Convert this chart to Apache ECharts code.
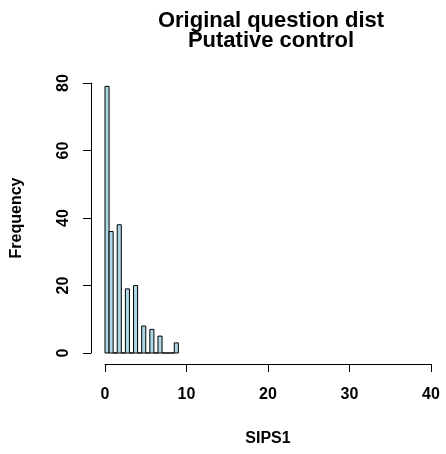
<!DOCTYPE html>
<html>
<head>
<meta charset="utf-8">
<script src="https://cdn.jsdelivr.net/npm/echarts@6/dist/echarts.min.js"></script>
<style>
  html, body { margin: 0; padding: 0; background: #fff; }
  #chart { width: 446px; height: 454px; }
</style>
</head>
<body>
<div id="chart"></div>
<script>
// Histogram of SIPS1 scores, bins of width 0.5
const binStarts = [0, 0.5, 1, 1.5, 2, 2.5, 3, 3.5, 4, 4.5, 5, 5.5, 6, 6.5, 7, 7.5, 8, 8.5];
const binEnds   = [0.5, 1, 1.5, 2, 2.5, 3, 3.5, 4, 4.5, 5, 5.5, 6, 6.5, 7, 7.5, 8, 8.5, 9];
const counts    = [79, 36, 0, 38, 0, 19, 0, 20, 0, 8, 0, 7, 0, 5, 0, 0, 0, 3];
const xTicks = [0, 10, 20, 30, 40];
const yTicks = [0, 20, 40, 60, 80];

const titleLines = ['Original question dist', 'Putative control'];
const xName = 'SIPS1';
const yName = 'Frequency';

const font = 'Liberation Sans, Arial, Helvetica, sans-serif';

const bins = binStarts.map((s, i) => [s, binEnds[i], counts[i]]);

const chart = echarts.init(document.getElementById('chart'), null, { renderer: 'canvas' });

const axisText = { fontFamily: font, fontSize: 16, fontWeight: 'bold', color: '#000' };

chart.setOption({
  backgroundColor: '#ffffff',
  animation: false,
  title: titleLines.map((t, i) => ({
    text: t,
    left: 266,
    top: 5 + i * 20,
    textAlign: 'center',
    textStyle: { fontFamily: font, fontWeight: 'bold', fontSize: 22, color: '#000' }
  })),
  grid: { left: 105, right: 15, top: 83, bottom: 101, containLabel: false },
  xAxis: {
    type: 'value',
    min: xTicks[0],
    max: xTicks[xTicks.length - 1],
    interval: 10,
    position: 'bottom',
    offset: 11,
    name: xName,
    nameLocation: 'middle',
    nameGap: 67,
    nameTextStyle: axisText,
    axisLine: { show: true, onZero: false, lineStyle: { color: '#000', width: 1 } },
    axisTick: { show: true, length: 8, lineStyle: { color: '#000' } },
    axisLabel: Object.assign({ margin: 23, showMinLabel: true, showMaxLabel: true }, axisText),
    splitLine: { show: false }
  },
  yAxis: {
    type: 'value',
    min: yTicks[0],
    max: yTicks[yTicks.length - 1],
    interval: 20,
    position: 'left',
    offset: 14,
    name: yName,
    nameLocation: 'middle',
    nameRotate: 90,
    nameGap: 66,
    nameTextStyle: axisText,
    axisLine: { show: true, onZero: false, lineStyle: { color: '#000', width: 1 } },
    axisTick: { show: true, length: 8, lineStyle: { color: '#000' } },
    axisLabel: Object.assign({ margin: 19, rotate: 90, showMinLabel: true, showMaxLabel: true }, axisText),
    splitLine: { show: false }
  },
  series: [{
    type: 'custom',
    clip: false,
    data: bins,
    encode: { x: [0, 1], y: 2 },
    renderItem: function (params, api) {
      const p0 = api.coord([api.value(0), api.value(2)]);
      const p1 = api.coord([api.value(1), 0]);
      return {
        type: 'rect',
        shape: { x: p0[0], y: p0[1], width: p1[0] - p0[0], height: p1[1] - p0[1] },
        style: { fill: '#ADD8E6', stroke: '#000', lineWidth: 1 }
      };
    }
  }]
});
</script>
</body>
</html>
